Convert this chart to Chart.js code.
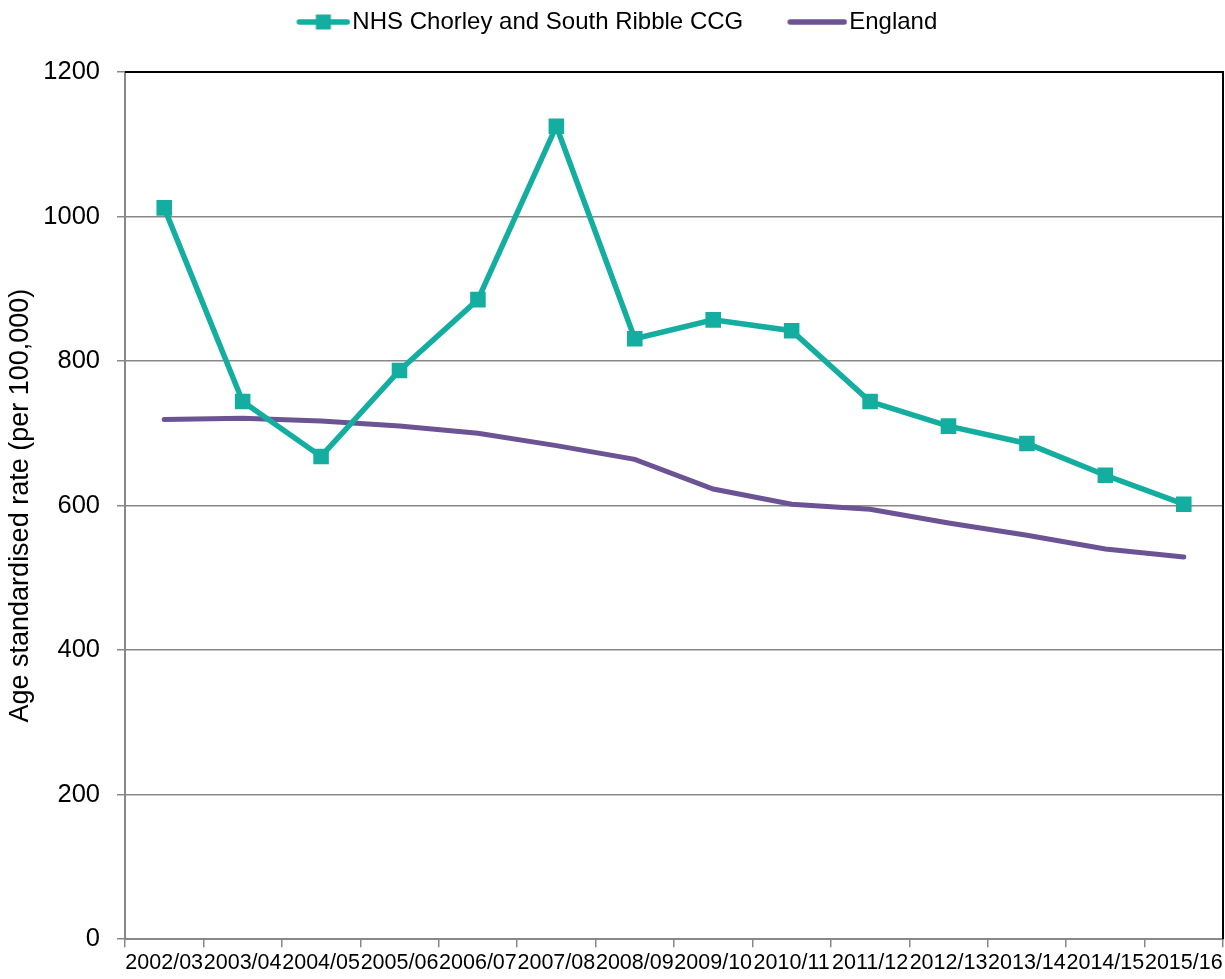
<!DOCTYPE html>
<html>
<head>
<meta charset="utf-8">
<script src="https://cdn.jsdelivr.net/npm/chart.js@4"></script>
<style>
html,body{margin:0;padding:0;background:#fff;}
#wrap{width:1225px;height:979px;position:relative;}
</style>
</head>
<body>
<div id="wrap"><canvas id="c" width="1225" height="979"></canvas></div>
<script>
const categories = ["2002/03","2003/04","2004/05","2005/06","2006/07","2007/08","2008/09","2009/10","2010/11","2011/12","2012/13","2013/14","2014/15","2015/16"];
const ccgValues = [1012, 744, 668, 787, 885, 1125, 831, 857, 842, 744, 710, 686, 642, 602];
const englandValues = [719, 721, 717, 710, 700, 683, 664, 623, 602, 595, 576, 559, 540, 529];
const yTicks = [0, 200, 400, 600, 800, 1000, 1200];
const ccgName = "NHS Chorley and South Ribble CCG";
const englandName = "England";

const TEAL = '#13AE9F';
const PURPLE = '#6C5494';
const FONT = "'Liberation Sans', Arial, sans-serif";

function legendImage(color, withMarker, lineStart) {
  const c = document.createElement('canvas');
  c.width = 104; c.height = 18;
  const g = c.getContext('2d');
  g.strokeStyle = color; g.lineWidth = 5.5; g.lineCap = 'round';
  g.beginPath(); g.moveTo(lineStart + 3, 9); g.lineTo(101, 9); g.stroke();
  if (withMarker) {
    g.fillStyle = color;
    const cx = (lineStart + 104) / 2;
    g.fillRect(cx - 7.5, 1.5, 15, 15);
  }
  return c;
}
const ccgLegendImg = legendImage(TEAL, true, 50);
const engLegendImg = legendImage(PURPLE, false, 44);

const frameLines = {
  id: 'frameLines',
  afterDatasetsDraw(chart) {
    const a = chart.chartArea, ctx = chart.ctx;
    ctx.save();
    ctx.strokeStyle = '#000'; ctx.lineWidth = 2;
    ctx.beginPath();
    ctx.moveTo(a.left, a.top); ctx.lineTo(a.right, a.top); ctx.lineTo(a.right, a.bottom);
    ctx.stroke();
    ctx.restore();
  }
};

new Chart(document.getElementById('c'), {
  type: 'line',
  data: {
    labels: categories,
    datasets: [
      {
        label: ccgName, data: ccgValues,
        borderColor: TEAL, backgroundColor: TEAL, borderWidth: 5.5,
        pointStyle: 'rect', pointRadius: 11, pointHoverRadius: 11,
        pointBackgroundColor: TEAL, pointBorderWidth: 0, tension: 0
      },
      {
        label: englandName, data: englandValues,
        borderColor: PURPLE, backgroundColor: PURPLE, borderWidth: 5,
        pointRadius: 0, pointHoverRadius: 0, tension: 0, borderCapStyle: 'round'
      }
    ]
  },
  options: {
    responsive: false,
    animation: false,
    layout: { autoPadding: false, padding: { left: 2, right: 0, top: 0, bottom: 0 } },
    plugins: {
      tooltip: { enabled: false },
      legend: {
        position: 'top',
        labels: {
          usePointStyle: true,
          pointStyleWidth: 84,
          padding: 10,
          color: '#000',
          font: { family: FONT, size: 24, lineHeight: 1.0 },
          generateLabels(chart) {
            return [
              { text: ccgName, pointStyle: ccgLegendImg, datasetIndex: 0, fillStyle: TEAL, strokeStyle: TEAL, lineWidth: 0, fontColor: '#000' },
              { text: englandName + '     ', pointStyle: engLegendImg, datasetIndex: 1, fillStyle: PURPLE, strokeStyle: PURPLE, lineWidth: 0, fontColor: '#000' }
            ];
          }
        }
      }
    },
    scales: {
      x: {
        type: 'category',
        offset: true,
        grid: { display: true, offset: true, drawOnChartArea: false, drawTicks: true, tickLength: 8, color: '#888', lineWidth: 1.5 },
        border: { display: true, color: '#888', width: 2 },
        ticks: { autoSkip: false, maxRotation: 0, minRotation: 0, padding: 3, color: '#000', font: { family: FONT, size: 21.5 } },
        afterFit(s) { s.paddingRight = 0; s.paddingLeft = 0; }
      },
      xTop: {
        type: 'category',
        position: 'top',
        display: true,
        grid: { display: false },
        border: { display: false },
        ticks: { display: false },
        afterFit(s) { s.height = 28; s.paddingRight = 0; s.paddingLeft = 0; }
      },
      y: {
        min: 0, max: 1200,
        afterBuildTicks(s) { s.ticks = yTicks.map(v => ({ value: v })); },
        grid: { color: '#888', lineWidth: 1.5, tickLength: 8, drawTicks: true },
        border: { display: true, color: '#888', width: 2 },
        ticks: { padding: 17, color: '#000', font: { family: FONT, size: 25.5 }, callback: v => String(v) },
        title: { display: true, text: 'Age standardised rate (per 100,000)', color: '#000', font: { family: FONT, size: 27 }, padding: { top: 2, bottom: 4 } },
        afterFit(s) { s.width = 123; }
      },
      yRight: {
        position: 'right',
        display: true,
        grid: { display: false },
        border: { display: false },
        ticks: { display: false },
        afterFit(s) { s.width = 2; }
      }
    }
  },
  plugins: [frameLines]
});
</script>
</body>
</html>
